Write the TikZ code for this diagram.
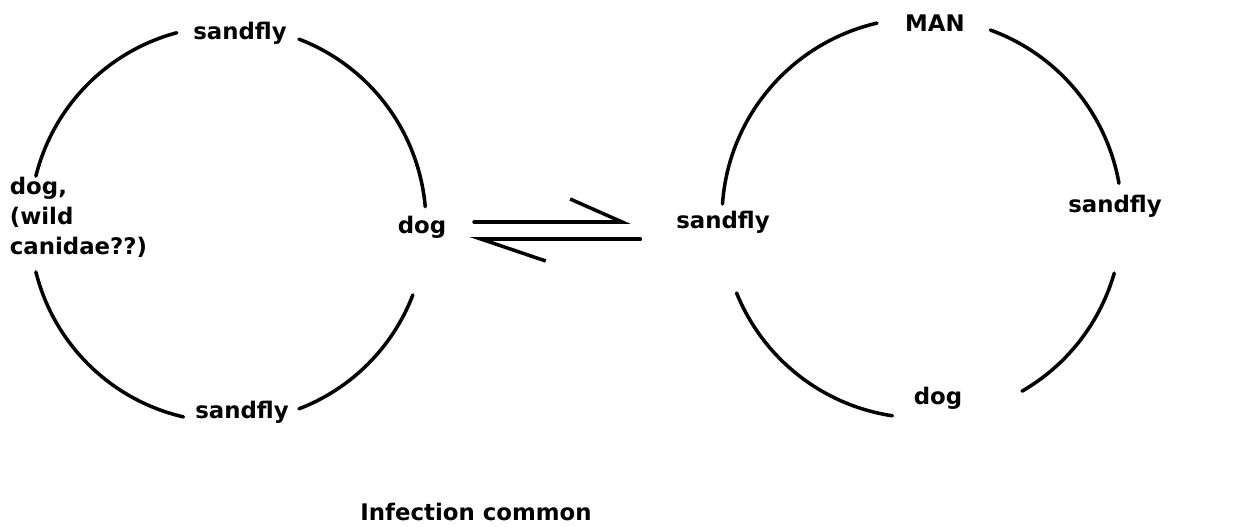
\documentclass[tikz,border=0pt]{standalone}
\usepackage{fontspec}
\setmainfont{DejaVu Sans}
\usetikzlibrary{arrows.meta, calc}
\tikzset{
  host/.style={font=\bfseries\fontsize{13}{17}\selectfont, inner sep=2pt},
  ring/.style={line width=2pt, line cap=round},
  harp/.style={line width=2pt, line cap=round}
}
\begin{document}
\begin{tikzpicture}[x=0.02cm, y=0.02cm]
  \useasboundingbox (0,0) rectangle (1242,527);
  \coordinate (lc) at (228,303);
  \coordinate (rc) at (922,309);

  % Left cycle
  \node[host] (sfTop) at (240,494) {sandfly};
  \node[host] (sfBot) at (242,115) {sandfly};
  \node[host, anchor=west, align=left] (dogWild) at (6,310) {dog,\\(wild\\canidae??)};
  \node[host] (dogA) at (422,300) {dog};
  \draw[ring] ($(lc)+(69:198)$) arc (69:5:198);
  \draw[ring] ($(lc)+(-21:198)$) arc (-21:-69:198);
  \draw[ring] ($(lc)+(257:198)$) arc (257:194:198);
  \draw[ring] ($(lc)+(166:198)$) arc (166:105:198);

  % Right cycle
  \node[host] (man) at (935,504) {MAN};
  \node[host] (sfRight) at (1115,321) {sandfly};
  \node[host] (dogB) at (938,129) {dog};
  \node[host] (sfB) at (723,305) {sandfly};
  \draw[ring] ($(rc)+(70:200)$) arc (70:10:200);
  \draw[ring] ($(rc)+(-16:200)$) arc (-16:-60:200);
  \draw[ring] ($(rc)+(261.5:200)$) arc (261.5:202:200);
  \draw[ring] ($(rc)+(176:200)$) arc (176:103:200);

  % Exchange between the cycles
  \draw[harp, -{Straight Barb[left, length=1.04cm, width=0.92cm, line width=2pt]}, shorten <=0.48cm, shorten >=0.84cm]
    ([yshift=0.1cm]dogA.east) -- ([yshift=0.1cm]dogA.east -| sfB.west);
  \draw[harp, -{Straight Barb[left, length=1.3cm, width=0.88cm, line width=2pt]}, shorten <=0.64cm, shorten >=0.4cm]
    ([yshift=-0.24cm]dogA.east -| sfB.west) -- ([yshift=-0.24cm]dogA.east);

  \node[host] (note) at (476,15) {Infection common};
\end{tikzpicture}
\end{document}
